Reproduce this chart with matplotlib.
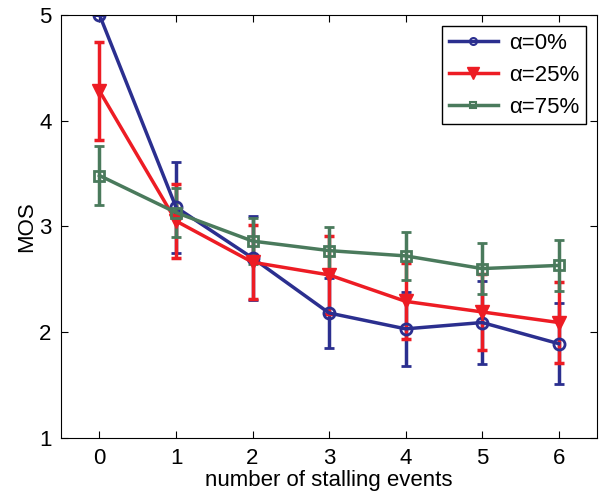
import matplotlib
matplotlib.use("Agg")
import matplotlib.pyplot as plt
from matplotlib.lines import Line2D

plt.rcParams['font.family'] = ['Liberation Sans', 'DejaVu Sans']

stalls = [0, 1, 2, 3, 4, 5, 6]

mos_a0 = [5.00, 3.18, 2.70, 2.18, 2.03, 2.09, 1.89]
err_a0 = [0.00, 0.43, 0.40, 0.33, 0.35, 0.39, 0.38]

mos_a25 = [4.28, 3.05, 2.66, 2.54, 2.29, 2.19, 2.09]
err_a25 = [0.46, 0.35, 0.35, 0.37, 0.36, 0.36, 0.38]

mos_a75 = [3.48, 3.13, 2.86, 2.77, 2.72, 2.60, 2.63]
err_a75 = [0.28, 0.23, 0.22, 0.22, 0.23, 0.24, 0.24]

labels = ['α=0%', 'α=25%', 'α=75%']
colors = ['#2b2f8f', '#ed1c24', '#4a7a5c']

fig = plt.figure(figsize=(6.0, 4.93), dpi=100)
ax = fig.add_axes([0.102, 0.112, 0.893, 0.858])

common = dict(lw=2.5, capsize=3.5, capthick=2.5, elinewidth=2.5)
ax.errorbar(stalls, mos_a0, yerr=err_a0, color=colors[0],
            marker='o', ms=8, mfc='none', mew=2, **common)
ax.errorbar(stalls, mos_a25, yerr=err_a25, color=colors[1],
            marker='v', ms=10, **common)
ax.errorbar(stalls, mos_a75, yerr=err_a75, color=colors[2],
            marker='s', ms=7, mfc='none', mew=2, **common)

ax.set_xlim(-0.5, 6.5)
ax.set_ylim(1, 5)
ax.set_xticks(stalls)
ax.set_yticks([1, 2, 3, 4, 5])
ax.tick_params(direction='in', top=True, right=True, labelsize=16,
               length=5, pad=7)
ax.set_xlabel("number of stalling events", fontsize=16, labelpad=1)
ax.set_ylabel("MOS", fontsize=16, labelpad=1)

# legend: line + small marker, no error bars
handles = [
    Line2D([], [], color=colors[0], lw=2.5, marker='o', ms=5, mfc='none', mew=1.5),
    Line2D([], [], color=colors[1], lw=2.5, marker='v', ms=8),
    Line2D([], [], color=colors[2], lw=2.5, marker='s', ms=5, mfc='none', mew=1.5),
]
leg = ax.legend(handles, labels, loc='upper right', fontsize=16,
                fancybox=False, edgecolor='black', framealpha=1,
                handlelength=2.2, handletextpad=0.5, borderpad=0.3,
                labelspacing=0.5, borderaxespad=0.5)
leg.get_frame().set_linewidth(1.0)

fig.savefig("out.png", dpi=100)
